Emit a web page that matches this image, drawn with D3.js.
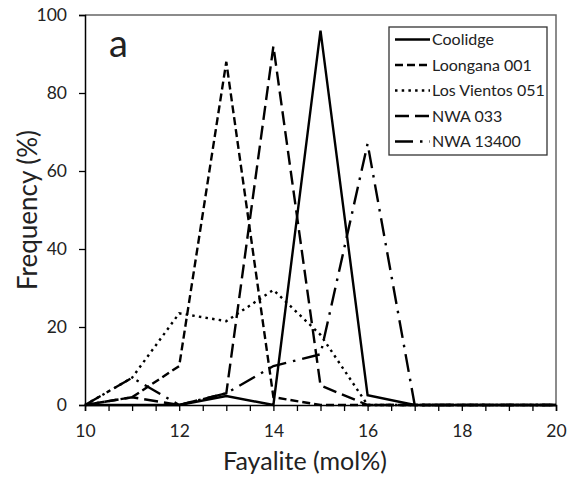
<!DOCTYPE html>
<html>
<head>
<meta charset="utf-8">
<script src="https://cdn.jsdelivr.net/npm/d3@7"></script>
<style>
  html, body { margin: 0; padding: 0; background: #fff; }
  svg { display: block; }
  text { font-family: Lato, "Open Sans", sans-serif; fill: #222; }
</style>
</head>
<body>
<svg id="chart" width="570" height="481"></svg>
<script>
// Fayalite bins (mol%)
const fayalite = [10, 11, 12, 13, 14, 15, 16, 17, 18, 19, 20];

// Frequency (%) per meteorite
const coolidge   = [0, 0, 0, 2.3, 0, 96, 2.5, 0, 0, 0, 0];
const loongana   = [0, 2, 10, 88, 2, 0, 0, 0, 0, 0, 0];
const losVientos = [0, 7, 23.5, 21.5, 29.5, 18, 0, 0, 0, 0, 0];
const nwa033     = [0, 2, 0, 3, 92, 5, 0, 0, 0, 0, 0];
const nwa13400   = [0, 7, 0, 3, 10, 13, 67, 0, 0, 0, 0];

const seriesNames = ["Coolidge", "Loongana 001", "Los Vientos 051", "NWA 033", "NWA 13400"];
const seriesValues = [coolidge, loongana, losVientos, nwa033, nwa13400];
const seriesDash = [null, "8,4", "2.5,4.2", "14,6", "18,7,2.5,7"];

const xTicks = [10, 12, 14, 16, 18, 20];
const xMinorTicks = d3.range(10, 20.001, 0.5);
const yTicks = [0, 20, 40, 60, 80, 100];

const svg = d3.select("#chart");
const plotLeft = 85, plotRight = 556, plotTop = 15, plotBottom = 405;

const x = d3.scaleLinear().domain([10, 20]).range([plotLeft, plotRight]);
const y = d3.scaleLinear().domain([0, 100]).range([plotBottom, plotTop]);

// plot frame (top and right edges)
svg.append("path")
  .attr("d", `M${plotLeft},${plotTop}H${plotRight}V${plotBottom}`)
  .attr("fill", "none")
  .attr("stroke", "#666")
  .attr("stroke-width", 1.5);

// series lines
const line = d3.line()
  .x((d, i) => x(fayalite[i]))
  .y(d => y(d));

seriesValues.forEach((vals, k) => {
  svg.append("path")
    .datum(vals)
    .attr("d", line)
    .attr("fill", "none")
    .attr("stroke", "#000")
    .attr("stroke-width", 2.4)
    .attr("stroke-linejoin", "miter")
    .attr("stroke-dasharray", seriesDash[k]);
});

// x axis
const xAxis = svg.append("g")
  .attr("transform", `translate(0,${plotBottom})`)
  .call(d3.axisBottom(x)
    .tickValues(xMinorTicks)
    .tickSize(6)
    .tickPadding(14)
    .tickFormat(d => xTicks.includes(d) ? d3.format("d")(d) : ""));
xAxis.select(".domain").attr("stroke", "#000").attr("stroke-width", 1.5);
xAxis.selectAll(".tick line").attr("stroke", "#000").attr("stroke-width", 1.3);
xAxis.selectAll(".tick text")
  .style("font-family", "Lato, sans-serif")
  .style("font-size", "17.5px")
  .attr("fill", "#222");

// y axis
const yAxis = svg.append("g")
  .attr("transform", `translate(${plotLeft},0)`)
  .call(d3.axisLeft(y).tickValues(yTicks).tickSize(6).tickPadding(12));
yAxis.select(".domain").attr("stroke", "#000").attr("stroke-width", 1.5);
yAxis.selectAll(".tick line").attr("stroke", "#000").attr("stroke-width", 1.3);
yAxis.selectAll(".tick text")
  .style("font-family", "Lato, sans-serif")
  .style("font-size", "17.5px")
  .attr("fill", "#222");

// axis titles
svg.append("text")
  .attr("x", 305)
  .attr("y", 470)
  .attr("text-anchor", "middle")
  .style("font-size", "25px")
  .text("Fayalite (mol%)");

svg.append("text")
  .attr("transform", `translate(37,${(plotTop + plotBottom) / 2}) rotate(-90)`)
  .attr("text-anchor", "middle")
  .style("font-size", "26px")
  .text("Frequency (%)");

// panel letter
svg.append("text")
  .attr("x", 109)
  .attr("y", 57)
  .style("font-size", "38px")
  .text("a");

// legend
const lg = svg.append("g");
lg.append("rect")
  .attr("x", 389).attr("y", 27)
  .attr("width", 158).attr("height", 128)
  .attr("fill", "#fff")
  .attr("stroke", "#333")
  .attr("stroke-width", 1.3);

seriesNames.forEach((name, k) => {
  const cy = 39.5 + k * 25.5;
  lg.append("line")
    .attr("x1", 395).attr("x2", 430)
    .attr("y1", cy).attr("y2", cy)
    .attr("stroke", "#000")
    .attr("stroke-width", 2.4)
    .attr("stroke-dasharray", seriesDash[k]);
  lg.append("text")
    .attr("x", 432)
    .attr("y", cy)
    .attr("dy", "0.36em")
    .style("font-size", "16px")
    .text(name);
});
</script>
</body>
</html>
